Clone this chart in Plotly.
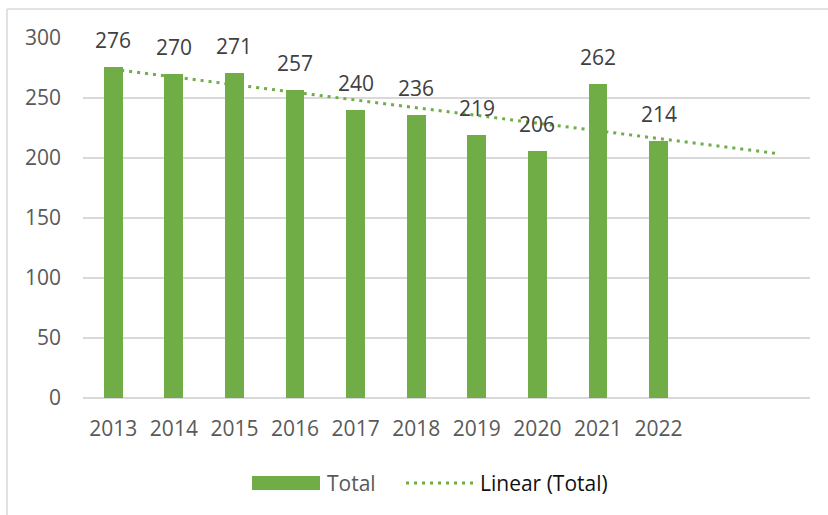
import numpy as np
import plotly.graph_objects as go

years = ["2013", "2014", "2015", "2016", "2017", "2018", "2019", "2020", "2021", "2022"]
totals = [276, 270, 271, 257, 240, 236, 219, 206, 262, 214]
forecast_periods = 2  # trendline extends two periods forward
y_ticks = [0, 50, 100, 150, 200, 250, 300]

GREEN = "#70ad47"
GRID = "#d9d9d9"
TICK = "#595959"
FONT = "Open Sans"
FS = 21

xpos = list(range(1, len(years) + 1))
coef = np.polyfit(xpos, totals, 1)
trend_x = list(range(1, len(years) + forecast_periods + 1))
trend_y = list(np.polyval(coef, trend_x))

fig = go.Figure()
fig.add_trace(go.Bar(x=xpos, y=totals, width=0.31, marker=dict(color=GREEN, line=dict(width=0)),
                     name="Total", showlegend=False))
fig.add_trace(go.Scatter(x=trend_x, y=trend_y, mode="lines",
                         line=dict(color=GREEN, width=3, dash="3px,5px"),
                         name="Linear (Total)", showlegend=False))

W, H = 828, 515
L, R, T, B = 83, 18, 38, 117
pw, ph = W - L - R, H - T - B

def px(x):
    return (x - L) / pw

def py(y):
    return (H - B - y) / ph

annotations = []
for xv, v in zip(xpos, totals):
    annotations.append(dict(x=xv, y=v, xref="x", yref="y", text=str(v), showarrow=False,
                            yanchor="bottom", yshift=11,
                            font=dict(family=FONT, size=FS, color="#404040")))
# legend texts
annotations.append(dict(x=px(325), y=py(483), xref="paper", yref="paper", text="Total",
                        showarrow=False, xanchor="left", yanchor="middle",
                        font=dict(family=FONT, size=FS, color=TICK)))
annotations.append(dict(x=px(478), y=py(483), xref="paper", yref="paper", text="Linear (Total)",
                        showarrow=False, xanchor="left", yanchor="middle",
                        font=dict(family=FONT, size=FS, color="#111111")))

shapes = [
    # outer chart border (top and left visible)
    dict(type="line", xref="paper", yref="paper", x0=px(7), x1=px(840), y0=py(9), y1=py(9),
         line=dict(color=GRID, width=1.5)),
    dict(type="line", xref="paper", yref="paper", x0=px(7), x1=px(7), y0=py(9), y1=py(530),
         line=dict(color=GRID, width=1.5)),
    # legend symbols
    dict(type="rect", xref="paper", yref="paper", x0=px(252), x1=px(320), y0=py(476), y1=py(490),
         fillcolor=GREEN, line=dict(width=0)),
    dict(type="line", xref="paper", yref="paper", x0=px(406), x1=px(477), y0=py(483), y1=py(483),
         line=dict(color=GREEN, width=3, dash="3px,5px")),
]

fig.update_layout(
    width=W, height=H,
    margin=dict(l=L, r=R, t=T, b=B, pad=0),
    paper_bgcolor="white", plot_bgcolor="white",
    showlegend=False,
    bargap=0,
    annotations=annotations,
    shapes=shapes,
    font=dict(family=FONT, size=FS, color=TICK),
    xaxis=dict(range=[0.5, len(years) + forecast_periods + 0.5], tickmode="array",
               tickvals=xpos, ticktext=years, showgrid=False, zeroline=False,
               showline=False, ticks="", ticklabelstandoff=16,
               tickfont=dict(family=FONT, size=FS, color=TICK)),
    yaxis=dict(range=[0, 300], tickmode="array", tickvals=y_ticks, showgrid=True,
               gridcolor=GRID, gridwidth=1.5, zeroline=True, zerolinecolor=GRID,
               zerolinewidth=1.5, showline=False, ticks="", ticklabelstandoff=21,
               tickfont=dict(family=FONT, size=FS, color=TICK)),
)

fig.write_html("out.html", config={"displayModeBar": False},
               post_script="document.body.style.margin='0';document.body.style.overflow='hidden';")
